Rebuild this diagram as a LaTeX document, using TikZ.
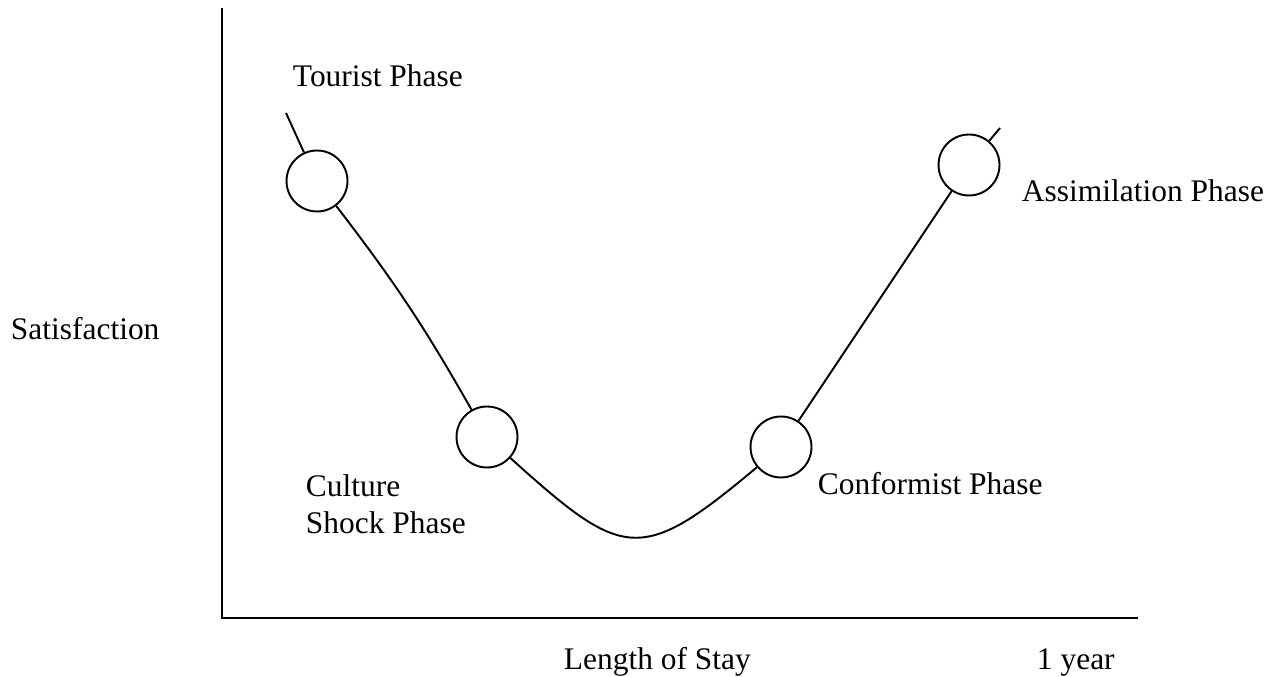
\documentclass[tikz,border=0pt]{standalone}
\usepackage{fontspec}
\setmainfont{Liberation Serif}
\usetikzlibrary{positioning}

\begin{document}
\begin{tikzpicture}[x=0.02cm, y=0.02cm, line width=1.1pt,
    phase/.style={draw, circle, minimum size=1.22cm, inner sep=0pt},
    lbl/.style={anchor=base west, inner sep=0pt, font=\fontsize{17.9}{21}\selectfont}]
    \useasboundingbox (0,0) rectangle (1270,676);
    % axes
    \coordinate (O) at (222,58);
    \coordinate (top) at (222,668);
    \coordinate (xend) at (1138,58);
    \draw (top) -- (O) -- (xend);
    % the curve and its phases
    \coordinate (start) at (286,563);
    \node[phase] (tour) at (317,495) {};
    \node[phase] (shock) at (487,239) {};
    \node[phase] (conf) at (781,229) {};
    \node[phase] (assim) at (969,511) {};
    \coordinate (stop) at (1000,548);
    \draw (start) -- (tour);
    \draw (tour) to[bend left=4] (shock);
    \draw (shock) to[out=-42, in=-140, looseness=1.58] (conf);
    \draw (conf) -- (assim) -- (stop);
    % labels
    \node[lbl] (tourL) at (292,589) {Tourist Phase};
    \node[lbl] (assimL) at (1021,474) {Assimilation Phase};
    \node[lbl] (satL) at (10,336) {Satisfaction};
    \node[lbl] (cultL) at (305,179) {Culture};
    \node[lbl] (shockL) at (305,143) {Shock Phase};
    \node[lbl] (confL) at (817,181) {Conformist Phase};
    \node[lbl] (lenL) at (563,7) {Length of Stay};
    \node[lbl] (yearL) at (1036,7) {1 year};
\end{tikzpicture}
\end{document}
